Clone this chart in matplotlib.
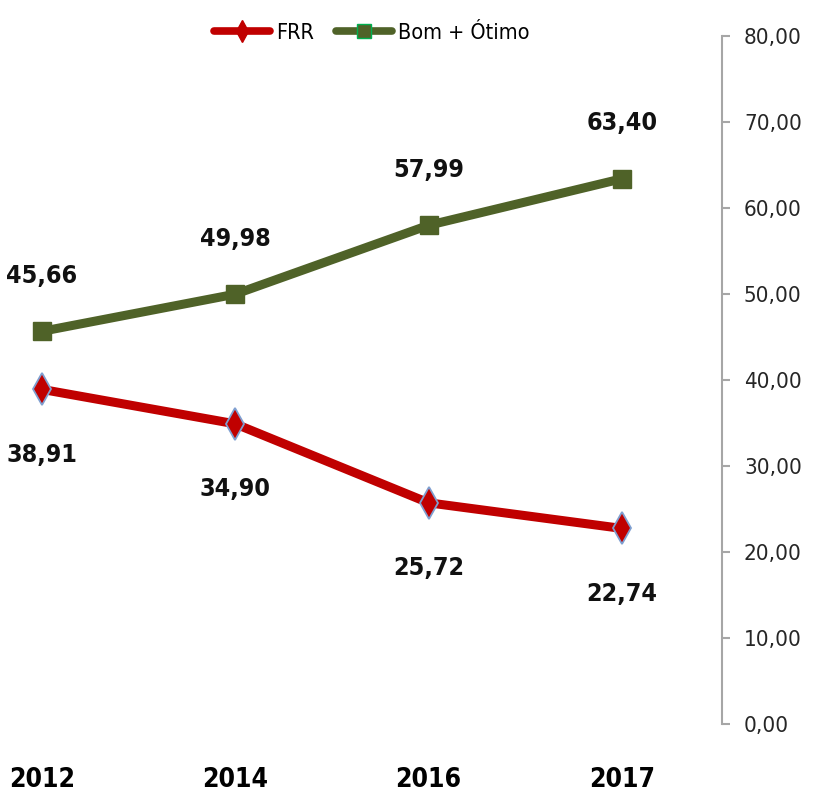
import numpy as np
import matplotlib
matplotlib.use('Agg')
import matplotlib.pyplot as plt
from matplotlib.lines import Line2D

years = ['2012', '2014', '2016', '2017']
frr = [38.91, 34.90, 25.72, 22.74]
bom_otimo = [45.66, 49.98, 57.99, 63.40]
y_ticks = [0, 10, 20, 30, 40, 50, 60, 70, 80]

plt.rcParams['font.family'] = ['DejaVu Sans']
plt.rcParams['font.stretch'] = 'condensed'

RED = '#C00000'
GREEN = '#4F6228'

fig = plt.figure(figsize=(8.13, 8.02), dpi=100)
ax = fig.add_axes([0.0, 1 - 724 / 802, 722 / 813, (724 - 36) / 802])

x = np.arange(len(years))
ax.plot(x, frr, color=RED, lw=6.5, marker='d', ms=16, mfc=RED, mec='#7F9FD0', mew=1.3,
        solid_capstyle='round', zorder=3)
ax.plot(x, bom_otimo, color=GREEN, lw=6.5, marker='s', ms=13.5, mfc=GREEN, mec=GREEN,
        solid_capstyle='round', zorder=3)

for i, v in enumerate(frr):
    ax.annotate(f'{v:.2f}'.replace('.', ','), (i, v), xytext=(0, -47), textcoords='offset points',
                ha='center', va='center', fontsize=18, fontweight='bold', color='#111111')
for i, v in enumerate(bom_otimo):
    ax.annotate(f'{v:.2f}'.replace('.', ','), (i, v), xytext=(0, 40), textcoords='offset points',
                ha='center', va='center', fontsize=18, fontweight='bold', color='#111111')

ax.set_xlim(-0.217, 3.518)
ax.set_ylim(0, 80)

ax.yaxis.tick_right()
ax.set_yticks(y_ticks)
ax.set_yticklabels([f'{t:.2f}'.replace('.', ',') for t in y_ticks], fontsize=16, color='#262626')
ax.tick_params(axis='y', direction='out', length=5.8, width=1.5, color='#A6A6A6', pad=10)

ax.set_xticks(x)
ax.set_xticklabels(years, fontsize=19, fontweight='bold')
ax.tick_params(axis='x', length=0, pad=31)

for s in ['left', 'top', 'bottom']:
    ax.spines[s].set_visible(False)
ax.spines['right'].set_color('#A6A6A6')
ax.spines['right'].set_linewidth(1.5)

handles = [
    Line2D([], [], color=RED, lw=5.5, marker='d', ms=11, mfc=RED, mec=RED, solid_capstyle='round'),
    Line2D([], [], color=GREEN, lw=5.5, marker='s', ms=10, mfc=GREEN, mec='#00B050', solid_capstyle='round'),
]
fig.legend(handles, ['FRR', 'Bom + Ótimo'], loc='center', bbox_to_anchor=(372 / 813, 1 - 33 / 802),
           ncol=2, frameon=False, prop=dict(size=15.5, stretch='condensed'),
           handlelength=2.6, columnspacing=1.0, handletextpad=0.3)

fig.savefig('out.png', dpi=100)
